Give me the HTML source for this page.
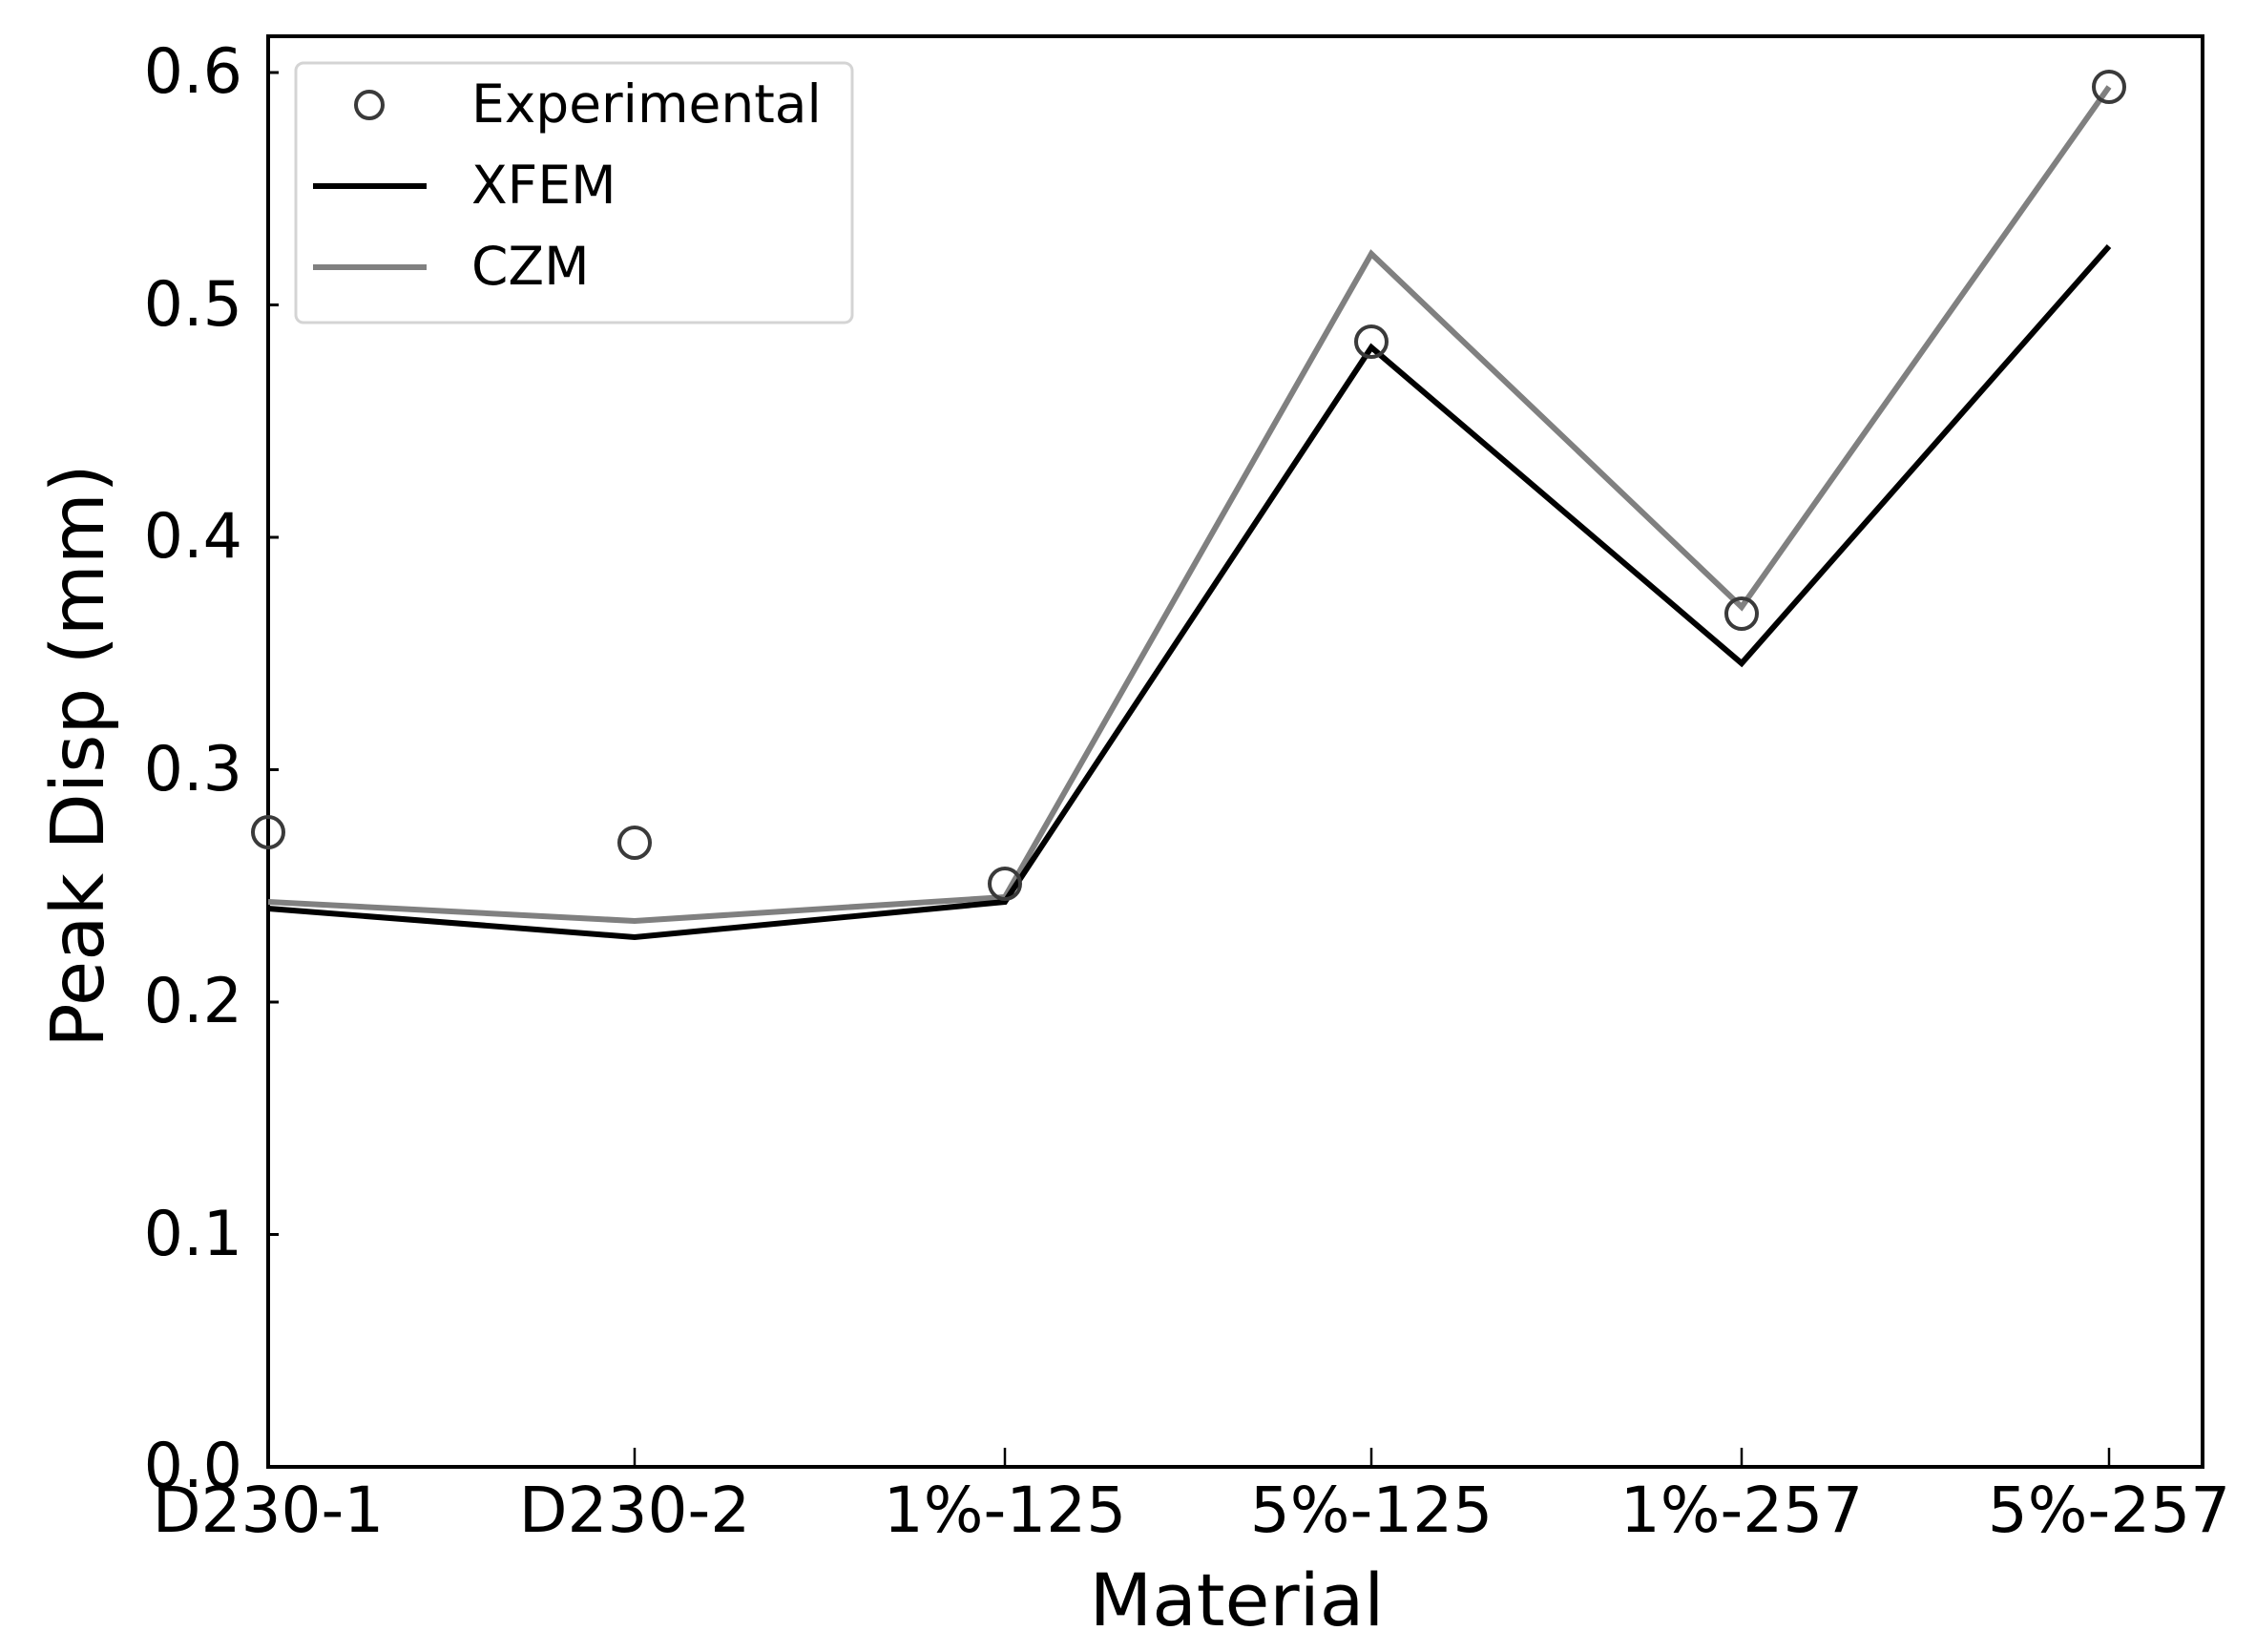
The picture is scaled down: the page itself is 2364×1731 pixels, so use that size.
<!DOCTYPE html>
<html><head><meta charset="utf-8"><style>
html,body{margin:0;padding:0;background:#fff;}
svg{display:block;}
text{font-family:"DejaVu Sans","Liberation Sans",sans-serif;fill:#000;}
</style></head><body>
<svg width="2364" height="1731" viewBox="0 0 2364 1731" xmlns="http://www.w3.org/2000/svg">
<rect width="2364" height="1731" fill="#fff"/>
<rect x="281" y="38" width="2027" height="1499" fill="none" stroke="#000" stroke-width="4"/>
<g stroke="#000" stroke-width="3">
<line x1="281" y1="1537" x2="292" y2="1537"/>
<line x1="281" y1="1293.5" x2="292" y2="1293.5"/>
<line x1="281" y1="1050" x2="292" y2="1050"/>
<line x1="281" y1="806.5" x2="292" y2="806.5"/>
<line x1="281" y1="563" x2="292" y2="563"/>
<line x1="281" y1="319.5" x2="292" y2="319.5"/>
<line x1="281" y1="76" x2="292" y2="76"/>
</g>
<g font-size="65" text-anchor="end">
<text x="254" y="1558">0.0</text>
<text x="254" y="1315">0.1</text>
<text x="254" y="1071">0.2</text>
<text x="254" y="828">0.3</text>
<text x="254" y="584">0.4</text>
<text x="254" y="341">0.5</text>
<text x="254" y="97">0.6</text>
</g>
<g stroke="#000" stroke-width="2.5">
<line x1="665" y1="1537" x2="665" y2="1517"/>
<line x1="1053" y1="1537" x2="1053" y2="1517"/>
<line x1="1437" y1="1537" x2="1437" y2="1517"/>
<line x1="1825" y1="1537" x2="1825" y2="1517"/>
<line x1="2210" y1="1537" x2="2210" y2="1517"/>
</g>
<g font-size="66" text-anchor="middle">
<text x="281" y="1605">D230-1</text>
<text x="665" y="1605">D230-2</text>
<text x="1053" y="1605">1%-125</text>
<text x="1437" y="1605">5%-125</text>
<text x="1825" y="1605">1%-257</text>
<text x="2210" y="1605">5%-257</text>
</g>
<text x="1296" y="1703" font-size="76" text-anchor="middle">Material</text>
<text transform="translate(108,792) rotate(-90)" font-size="77" text-anchor="middle">Peak Disp (mm)</text>
<polyline fill="none" stroke="#808080" stroke-width="6" stroke-linejoin="miter" points="281,945 665,965 1053,940 1437,266 1825,636 2210,91"/>
<polyline fill="none" stroke="#000" stroke-width="6" stroke-linejoin="miter" points="281,952 665,982 1053,945 1437,364 1825,695 2210,258"/>
<g fill="none" stroke="#3a3a3a" stroke-width="4">
<circle cx="281" cy="872" r="16"/>
<circle cx="665" cy="883" r="16"/>
<circle cx="1053" cy="926" r="16"/>
<circle cx="1437" cy="358" r="16"/>
<circle cx="1825" cy="643" r="16"/>
<circle cx="2210" cy="91" r="16"/>
</g>
<rect x="310" y="66" width="583" height="272" rx="8" fill="#fff" fill-opacity="0.85" stroke="#d4d4d4" stroke-width="3"/>
<circle cx="387" cy="110" r="14" fill="none" stroke="#3a3a3a" stroke-width="4"/>
<line x1="328" y1="195" x2="447" y2="195" stroke="#000" stroke-width="6"/>
<line x1="328" y1="280" x2="447" y2="280" stroke="#808080" stroke-width="6"/>
<g font-size="55">
<text x="494" y="128">Experimental</text>
<text x="494" y="213">XFEM</text>
<text x="494" y="298">CZM</text>
</g>
</svg>
</body></html>
